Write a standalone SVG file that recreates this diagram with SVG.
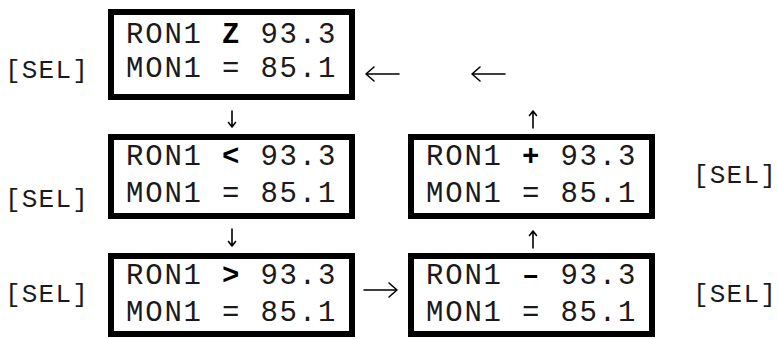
<svg xmlns="http://www.w3.org/2000/svg" width="778" height="339" viewBox="0 0 778 339">
<style>
.box{fill:#fff;stroke:#000;stroke-width:6}
.t{font-family:"Liberation Mono","Courier New",monospace;font-size:29px;letter-spacing:1.8px;fill:#1a1a1a;white-space:pre}
.b{font-weight:bold;fill:#000}
.sel{font-family:"Liberation Mono","Courier New",monospace;font-size:26px;letter-spacing:1.2px;fill:#1a1a1a}
.arr{fill:none;stroke:#000;stroke-width:1.6;stroke-linecap:round;stroke-linejoin:round}
</style>
<rect width="778" height="339" fill="#fff"/>
<g id="node-z">
<rect class="box" x="111" y="12" width="241" height="85"/>
<text class="t" x="126" y="43">RON1 <tspan class="b">Z</tspan> 93.3</text>
<text class="t" x="126" y="77">MON1 = 85.1</text>
</g>
<g id="node-lt">
<rect class="box" x="111" y="137" width="241" height="79"/>
<text class="t" x="126" y="165">RON1 <tspan class="b">&lt;</tspan> 93.3</text>
<text class="t" x="126" y="202">MON1 = 85.1</text>
</g>
<g id="node-gt">
<rect class="box" x="111" y="256" width="241" height="78"/>
<text class="t" x="126" y="284">RON1 <tspan class="b">&gt;</tspan> 93.3</text>
<text class="t" x="126" y="321">MON1 = 85.1</text>
</g>
<g id="node-plus">
<rect class="box" x="411" y="137" width="241" height="79"/>
<text class="t" x="426" y="165">RON1 <tspan class="b">+</tspan> 93.3</text>
<text class="t" x="426" y="202">MON1 = 85.1</text>
</g>
<g id="node-minus">
<rect class="box" x="411" y="256" width="241" height="78"/>
<text class="t" x="426" y="284">RON1 <tspan class="b">–</tspan> 93.3</text>
<text class="t" x="426" y="321">MON1 = 85.1</text>
</g>
<g id="labels">
<text class="sel" x="5" y="78">[SEL]</text>
<text class="sel" x="5" y="207">[SEL]</text>
<text class="sel" x="5" y="302">[SEL]</text>
<text class="sel" x="693" y="183">[SEL]</text>
<text class="sel" x="693" y="302">[SEL]</text>
</g>
<g id="connectors">
<path class="arr" d="M399 74H366M374 67L366 74L374 81"/>
<path class="arr" d="M505 74H472M480 67L472 74L480 81"/>
<path class="arr" d="M232 111V127M228.5 122.5L232 127L235.5 122.5"/>
<path class="arr" d="M232 229V246M228.5 241.5L232 246L235.5 241.5"/>
<path class="arr" d="M533 128V111M529.5 115.5L533 111L536.5 115.5"/>
<path class="arr" d="M533 248V231M529.5 235.5L533 231L536.5 235.5"/>
<path class="arr" d="M364 290H397M389 283L397 290L389 297"/>
</g>
</svg>
